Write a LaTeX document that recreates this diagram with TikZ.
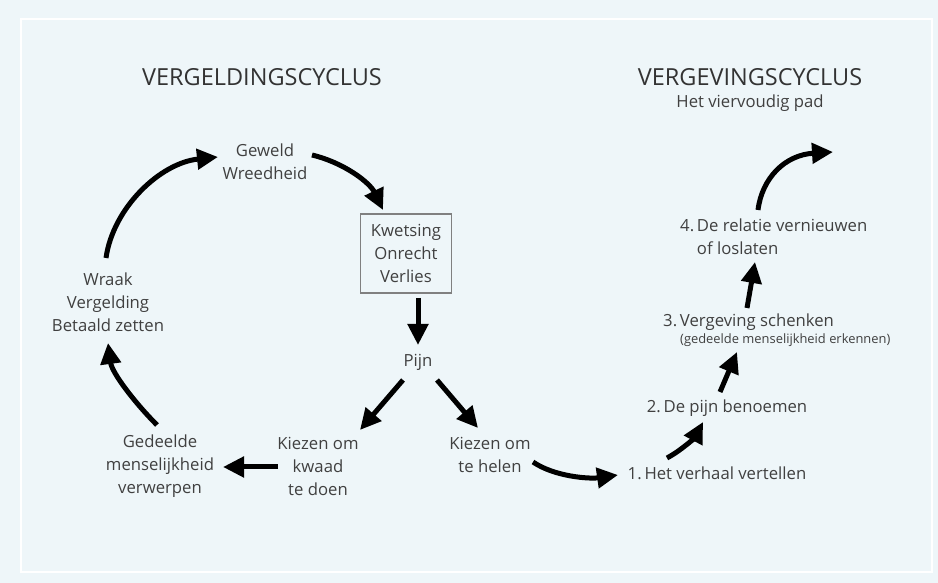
\documentclass[tikz,border=0pt]{standalone}
\usepackage{fontspec}
\setmainfont{Open Sans}
\usetikzlibrary{arrows.meta}
\definecolor{bgc}{HTML}{EEF6F9}
\definecolor{txt}{HTML}{404040}
\definecolor{ttl}{HTML}{333333}
\definecolor{boxc}{HTML}{808080}
\tikzset{
  lbl/.style={text=txt, font=\fontsize{16.7}{23}\selectfont, align=center, inner sep=0pt},
  ttlnode/.style={text=ttl, font=\fontsize{23.5}{26}\selectfont, inner sep=0pt},
  arr/.style={line width=5pt, -{Triangle[length=21pt,width=20pt]}},
}
\begin{document}
\begin{tikzpicture}[x=1pt,y=1pt]
\fill[bgc] (0,0) rectangle (938,583);
\useasboundingbox (0,0) rectangle (938,583);
\draw[white, line width=2pt] (21,11) rectangle (932,564);

% titles
\node[ttlnode] (t1) at (262,506) {VERGELDINGSCYCLUS};
\node[ttlnode] (t2) at (750,506) {VERGEVINGSCYCLUS};
\node[lbl] (t3) at (750,480) {Het viervoudig pad};

% left cycle
\node[lbl] (geweld) at (265,421.5) {Geweld\\Wreedheid};
\node[lbl, draw=boxc, line width=1.1pt, minimum width=91pt, minimum height=79pt] (box) at (406,329.5) {Kwetsing\\Onrecht\\Verlies};
\node[lbl] (pijn) at (418,221) {Pijn};
\node[lbl] (kwaad) at (318,117) {Kiezen om\\kwaad\\te doen};
\node[lbl] (gedeeld) at (160,117) {Gedeelde\\menselijkheid\\verwerpen};
\node[lbl] (wraak) at (108,281) {Wraak\\Vergelding\\Betaald zetten};
\node[lbl] (helen) at (490,128) {Kiezen om\\te helen};

% right path
\node[lbl] (s1) at (717,110) {1.\,Het verhaal vertellen};
\node[lbl] (s2) at (727,175) {2.\,De pijn benoemen};
\node[lbl, anchor=west] (s3) at (663,261) {3.\,Vergeving schenken};
\node[text=txt, font=\fontsize{12.9}{14}\selectfont, inner sep=0pt, anchor=west] (s3b) at (680,243) {(gedeelde menselijkheid erkennen)};
\node[lbl, align=left, anchor=west] (s4) at (680,346.5) {4.\,De relatie vernieuwen\\\hphantom{4.\,}of loslaten};

% arrow end coordinates
\coordinate (a1s) at (106,325);
\coordinate (a1e) at (218,426);
\coordinate (a2s) at (312,428);
\coordinate (a2e) at (383,373);
\coordinate (a3s) at (418,285);
\coordinate (a3e) at (418,238);
\coordinate (a4s) at (403,203);
\coordinate (a4e) at (360,153);
\coordinate (a5s) at (437,203);
\coordinate (a5e) at (478,155);
\coordinate (a6s) at (278,116);
\coordinate (a6e) at (223,116);
\coordinate (a7s) at (157,158);
\coordinate (a7e) at (108,240);
\coordinate (a8s) at (533,121);
\coordinate (a8e) at (618,108);
\coordinate (a9s) at (667,125);
\coordinate (a9e) at (703,161);
\coordinate (a10s) at (720,191);
\coordinate (a10e) at (737,231);
\coordinate (a11s) at (747,275);
\coordinate (a11e) at (755,321);
\coordinate (a12s) at (758,373);
\coordinate (a12e) at (833,431);

\draw[arr] (a1s) .. controls (113,375) and (160,420) .. (a1e);
\draw[arr] (a2s) .. controls (345,420) and (370,400) .. (a2e);
\draw[arr] (a3s) -- (a3e);
\draw[arr] (a4s) -- (a4e);
\draw[arr] (a5s) -- (a5e);
\draw[arr] (a6s) -- (a6e);
\draw[arr] (a7s) .. controls (135,180) and (112,210) .. (a7e);
\draw[arr] (a8s) .. controls (555,106) and (590,104) .. (a8e);
\draw[arr] (a9s) .. controls (682,133) and (695,146) .. (a9e);
\draw[arr] (a10s) -- (a10e);
\draw[arr] (a11s) -- (a11e);
\draw[arr] (a12s) .. controls (762,405) and (785,428) .. (a12e);
\end{tikzpicture}
\end{document}
